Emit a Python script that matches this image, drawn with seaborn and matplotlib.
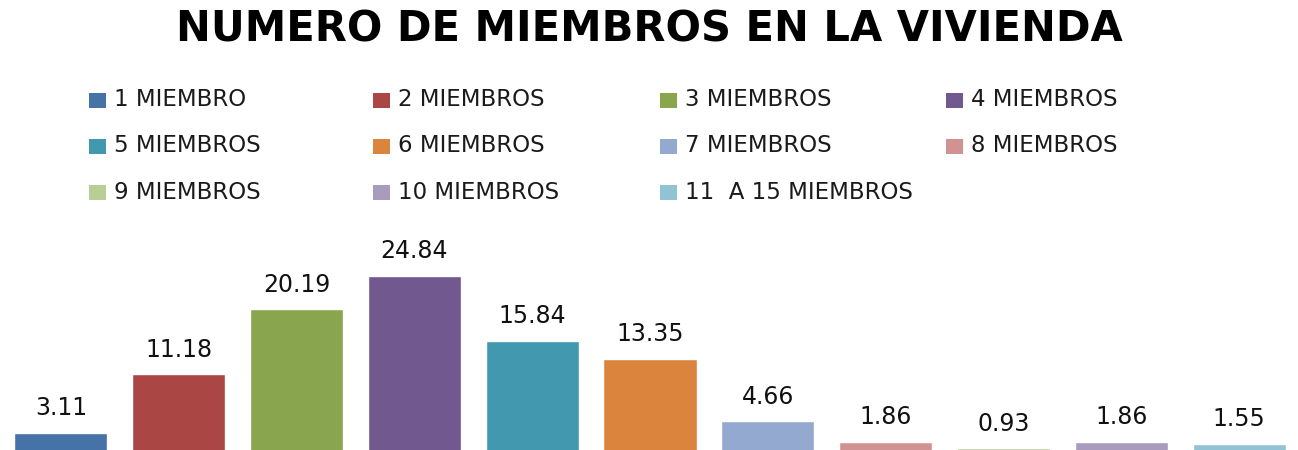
import matplotlib
matplotlib.use("Agg")
import matplotlib.pyplot as plt
import seaborn as sns
from matplotlib.patches import Rectangle

# Data
categories = ["1 MIEMBRO", "2 MIEMBROS", "3 MIEMBROS", "4 MIEMBROS",
              "5 MIEMBROS", "6 MIEMBROS", "7 MIEMBROS", "8 MIEMBROS",
              "9 MIEMBROS", "10 MIEMBROS", "11  A 15 MIEMBROS"]
values = [3.11, 11.18, 20.19, 24.84, 15.84, 13.35, 4.66, 1.86, 0.93, 1.86, 1.55]
colors = ["#4572A7", "#AA4643", "#89A54E", "#71588F", "#4198AF", "#DB843D",
          "#93A9CF", "#D19392", "#B9CD96", "#A99BBD", "#92C3D4"]

sns.set_style("white")
plt.rcParams["font.family"] = ["DejaVu Sans"]

fig = plt.figure(figsize=(12.98, 4.5), dpi=100)
# bars are cut by the bottom edge, so the axes goes a little below the figure
ax = fig.add_axes([0.0015, -0.0111, 0.9985, 0.5])

sns.barplot(x=categories, y=values, hue=categories, palette=colors,
            width=0.79, legend=False, saturation=1, ax=ax)
ax.set_xlim(-0.5, 10.5)
ax.set_ylim(0, 31.2)
ax.set_axis_off()

for cont in ax.containers:
    ax.bar_label(cont, fmt="%.2f", padding=9, fontsize=17, color="#111111")

# Title
fig.text(0.5, 1 - 29 / 450, "NUMERO DE MIEMBROS EN LA VIVIENDA", ha="center",
         va="center", fontsize=30, fontweight="bold", color="black")

# Legend, 4 columns, filled row by row
col_x = [89, 373, 660, 946]
row_y = [100, 146, 192]
W, H = 1298, 450
for i, (lab, c) in enumerate(zip(categories, colors)):
    r, k = divmod(i, 4)
    x, y = col_x[k], row_y[r]
    fig.patches.append(Rectangle((x / W, 1 - (y + 7.5) / H), 17 / W, 15 / H,
                                 transform=fig.transFigure, facecolor=c,
                                 edgecolor="none"))
    fig.text((x + 25) / W, 1 - y / H, lab, ha="left", va="center",
             fontsize=16.5, color="#1a1a1a")

fig.savefig("out.png", dpi=100)
